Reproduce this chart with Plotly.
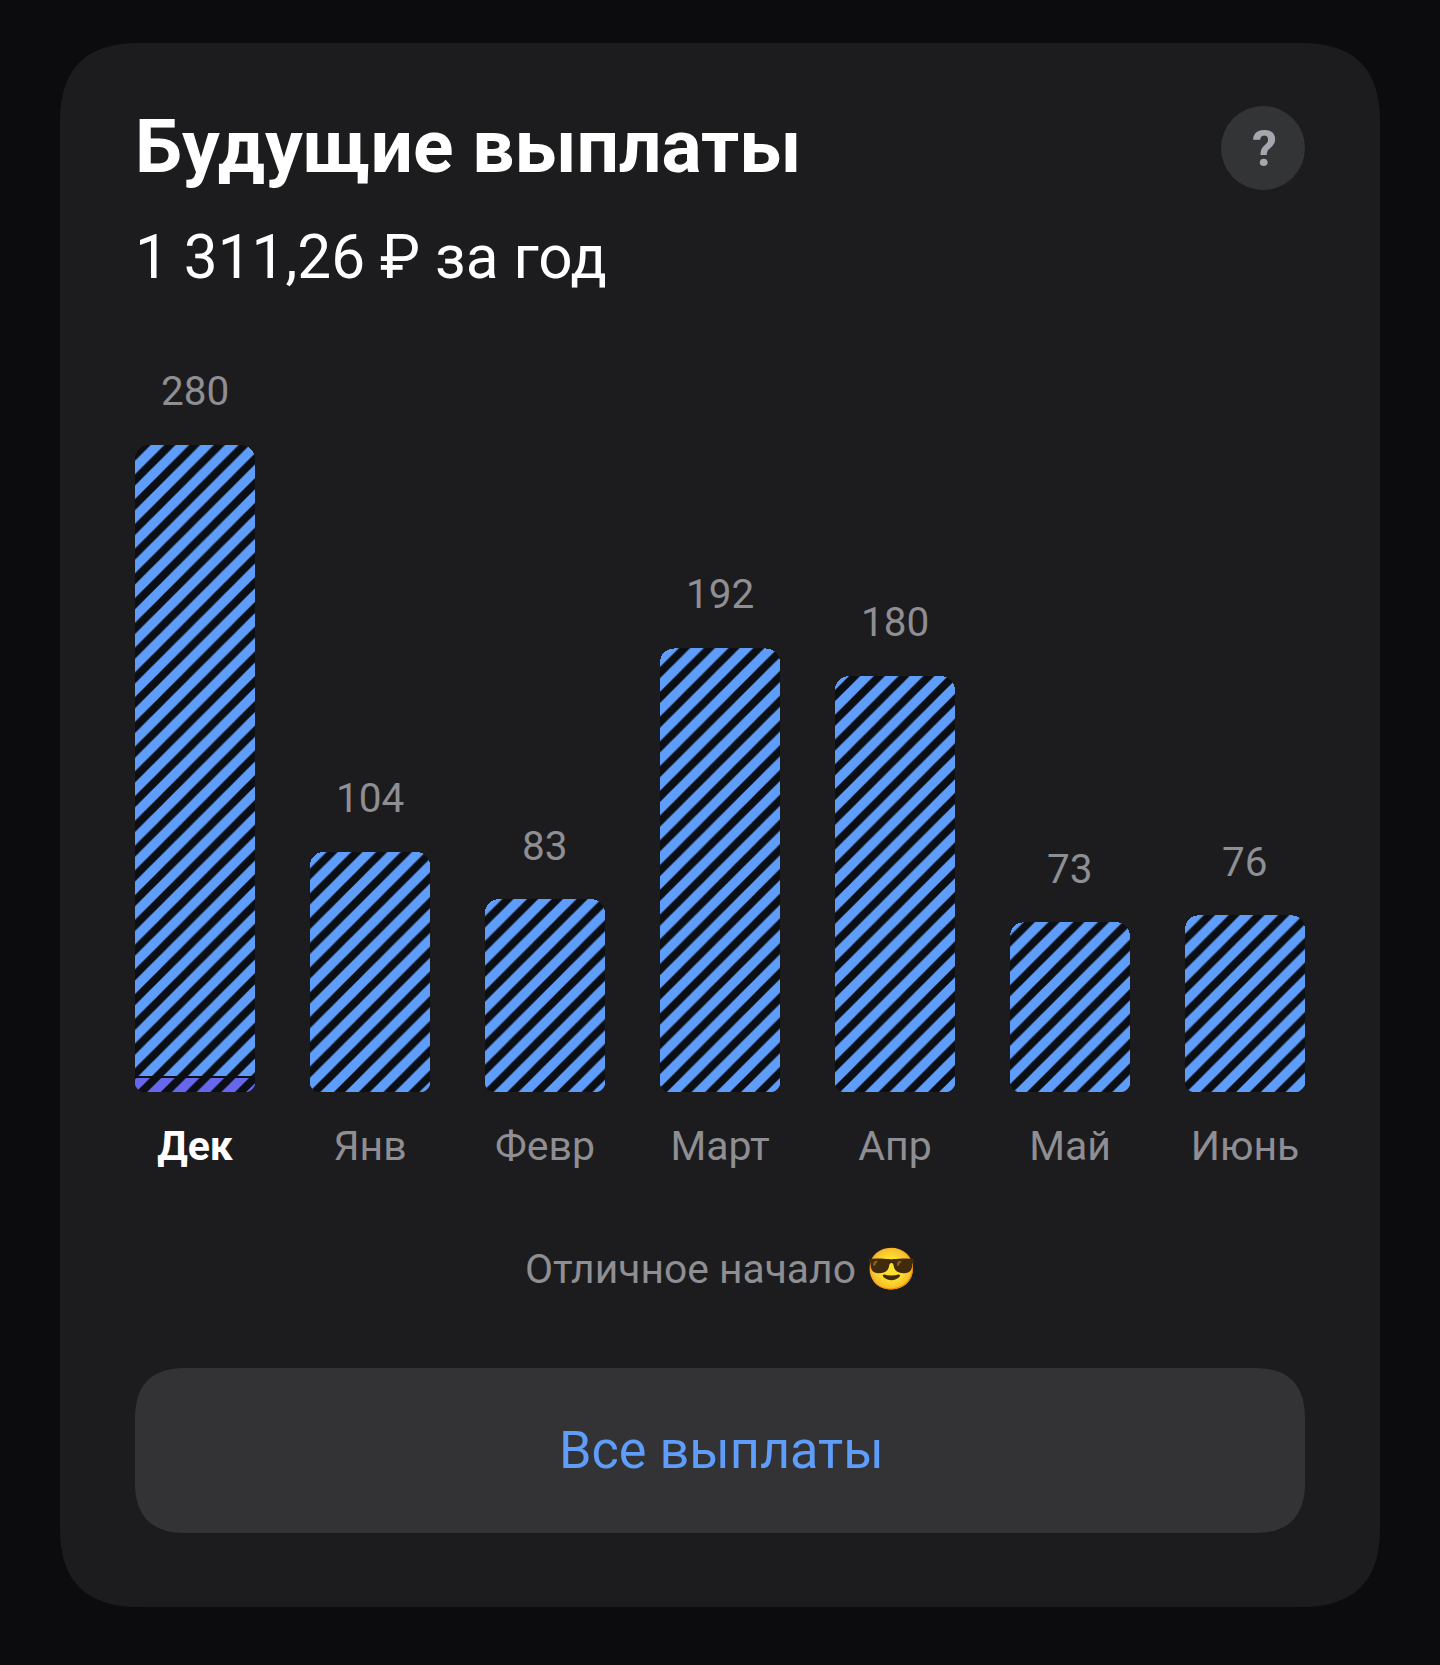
import plotly.graph_objects as go

W, H = 1440, 1665
months = ["Дек", "Янв", "Февр", "Март", "Апр", "Май", "Июнь"]
totals = [280, 104, 83, 192, 180, 73, 76]
received = [6, 0, 0, 0, 0, 0, 0]
separator = [1, 0, 0, 0, 0, 0, 0]
future = [273, 104, 83.5, 192, 180, 73.5, 76.5]

PAGE = "#0c0c0e"
CARD = "#1c1c1e"
BLUE = "#5f9dfb"
PURPLE = "#6767ee"
DARK = "#0b0e13"
GREY = "#8e8e93"
FONT = "Roboto"

STEP, FIRST, BAR_W, BASE_Y = 175, 195, 120, 1092
PX_PER_UNIT = 2.31


def px(x):
    return x / W


def py(y):
    return 1 - y / H


def rrect(x0, y0, x1, y1, r):
    a, b, c, d = px(x0), px(x1), py(y0), py(y1)
    return (
        f"M{px(x0 + r)},{c} L{px(x1 - r)},{c} Q{b},{c} {b},{py(y0 + r)} "
        f"L{b},{py(y1 - r)} Q{b},{d} {px(x1 - r)},{d} L{px(x0 + r)},{d} "
        f"Q{a},{d} {a},{py(y1 - r)} L{a},{py(y0 + r)} Q{a},{c} {px(x0 + r)},{c} Z"
    )


shapes = [
    dict(type="path", path=rrect(60, 43, 1380, 1607, 78), xref="paper", yref="paper",
         fillcolor=CARD, line_width=0, layer="below"),
    dict(type="path", path=rrect(135, 1368, 1305, 1533, 50), xref="paper", yref="paper",
         fillcolor="#333335", line_width=0, layer="below"),
    dict(type="circle", xref="paper", yref="paper", x0=px(1221), x1=px(1305), y0=py(190), y1=py(106),
         fillcolor="#333436", line_width=0, layer="below"),
]

# bottom corners of each bar are rounded by masking with the card colour
R = 14
for i in range(len(months)):
    left = FIRST + STEP * i - BAR_W / 2
    right = left + BAR_W
    for x_edge, x_in in ((left - 1, left + R), (right + 1, right - R)):
        shapes.append(dict(
            type="path", xref="paper", yref="paper", fillcolor=CARD, line_width=0, layer="above",
            path=(f"M{px(x_edge)},{py(BASE_Y + 1)} L{px(x_in)},{py(BASE_Y + 1)} "
                  f"Q{px(x_edge)},{py(BASE_Y + 1)} {px(x_edge)},{py(BASE_Y - R)} Z"),
        ))

fig = go.Figure()
for vals, fg, solid in ((received, PURPLE, 0.55), (separator, DARK, 1.0), (future, BLUE, 0.55)):
    fig.add_bar(
        x=months, y=[v if v else None for v in vals],
        marker=dict(
            color=DARK, line_width=0,
            pattern=dict(shape="/", fgcolor=fg, bgcolor=DARK, size=17.5, solidity=solid, fillmode="replace"),
        ),
        hoverinfo="skip", showlegend=False,
    )

annotations = [
    dict(x=m, y=t, xref="x", yref="y", text=str(t), showarrow=False, yanchor="middle", yshift=54,
         font=dict(family=FONT, size=40.5, color=GREY))
    for m, t in zip(months, totals)
]


def label(x, y, text, size, color, anchor="left"):
    return dict(x=px(x), y=py(y), xref="paper", yref="paper", text=text, showarrow=False,
                xanchor=anchor, yanchor="middle", font=dict(family=FONT, size=size, color=color))


annotations += [
    label(133, 146, "<b>Будущие выплаты</b>", 75, "#ffffff"),
    label(133, 257, "1 311,26 ₽ за год", 60.3, "#ffffff"),
    label(1264, 149, "<b>?</b>", 50, "#a4a7ae", "center"),
    label(721, 1269, "Отличное начало 😎", 40.8, GREY, "center"),
    label(721, 1450, "Все выплаты", 52.2, BLUE, "center"),
]

tick_text = [f'<span style="color:#ffffff"><b>{months[0]}</b></span>'] + months[1:]

fig.update_layout(
    width=W, height=H, margin=dict(l=0, r=0, t=0, b=0),
    paper_bgcolor=PAGE, plot_bgcolor="rgba(0,0,0,0)",
    barmode="stack", bargap=1 - BAR_W / STEP, barcornerradius=R,
    shapes=shapes, annotations=annotations, hovermode=False, dragmode=False,
    font=dict(family=FONT),
    xaxis=dict(
        domain=[px(FIRST - STEP / 2), px(FIRST + 6.5 * STEP)], range=[-0.5, 6.5],
        tickmode="array", tickvals=months, ticktext=tick_text,
        ticks="outside", ticklen=18, tickcolor="rgba(0,0,0,0)", showline=False, showgrid=False,
        zeroline=False, tickfont=dict(family=FONT, size=41, color=GREY), fixedrange=True,
        categoryorder="array", categoryarray=months,
    ),
    yaxis=dict(
        domain=[py(BASE_Y), 1], range=[0, BASE_Y / PX_PER_UNIT], visible=False, fixedrange=True,
    ),
)

fig.write_html("out.html", config=dict(displayModeBar=False),
               post_script="document.body.style.margin='0';document.body.style.background='%s';window.dispatchEvent(new Event('resize'));" % PAGE)
